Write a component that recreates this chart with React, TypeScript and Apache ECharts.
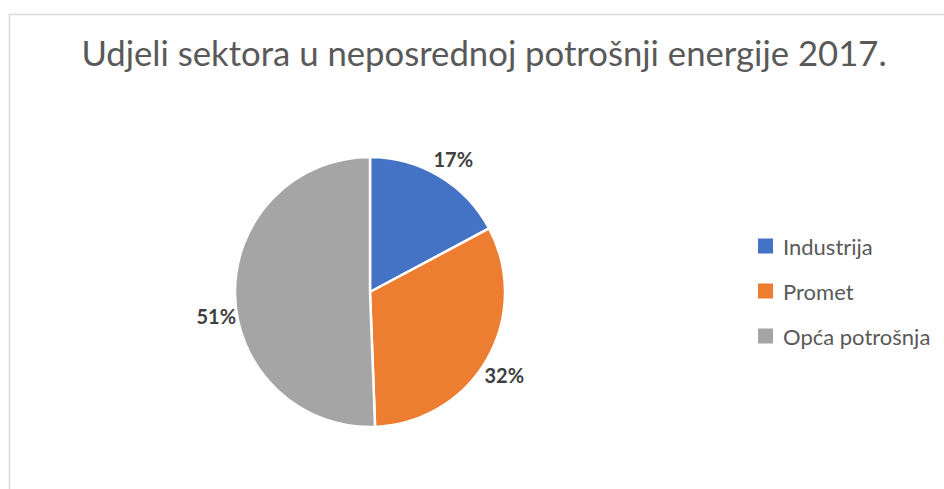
import React, { useEffect, useRef } from "react";
import * as echarts from "echarts";

const titleText = "Udjeli sektora u neposrednoj potrošnji energije 2017.";
const categories = ["Industrija", "Promet", "Opća potrošnja"];
const shares = [17.2, 32.2, 50.6];
const colors = ["#4472C4", "#ED7D31", "#A5A5A5"];
const labelOffsets = [
  [-13, -14],
  [-11, 14],
  [10, 21],
];

export default function App() {
  const ref = useRef<HTMLDivElement>(null);
  useEffect(() => {
    if (!ref.current) return;
    const chart = echarts.init(ref.current, null, { renderer: "svg" });
    chart.setOption({
      animation: false,
      backgroundColor: "#ffffff",
      title: {
        text: titleText,
        left: 479,
        textAlign: "center",
        top: 30,
        textStyle: {
          fontFamily: "Lato",
          fontSize: 34.7,
          fontWeight: "normal",
          color: "#595959",
        },
      },
      graphic: [
        {
          type: "rect",
          shape: { x: 9.5, y: 14.5, width: 1000, height: 600 },
          style: { fill: "none", stroke: "#d9d9d9", lineWidth: 1.5 },
          silent: true,
          z: -10,
        },
      ],
      legend: {
        orient: "vertical",
        left: 751,
        top: 230,
        itemWidth: 17,
        itemHeight: 17,
        itemGap: 23,
        icon: "rect",
        data: categories,
        textStyle: {
          fontFamily: "Lato",
          fontSize: 22,
          color: "#595959",
          lineHeight: 22,
          padding: [0, 0, 0, 4],
        },
      },
      series: [
        {
          type: "pie",
          center: [370, 292],
          radius: 135,
          startAngle: 90,
          clockwise: true,
          percentPrecision: 0,
          itemStyle: { borderColor: "#ffffff", borderWidth: 2.5 },
          label: {
            show: true,
            position: "outside",
            formatter: "{d}%",
            fontFamily: "Lato",
            fontSize: 20,
            fontWeight: "bold",
            color: "#404040",
          },
          labelLine: { show: false, length: 4, length2: 0 },
          labelLayout: (params: any) => {
            const o = labelOffsets[params.dataIndex] || [0, 0];
            return { dx: o[0], dy: o[1] };
          },
          data: categories.map((name, i) => ({
            name,
            value: shares[i],
            itemStyle: { color: colors[i] },
          })),
        },
      ],
    });
    return () => chart.dispose();
  }, []);
  return (
    <div
      ref={ref}
      style={{ position: "absolute", left: 0, top: 0, width: 944, height: 489 }}
    />
  );
}
